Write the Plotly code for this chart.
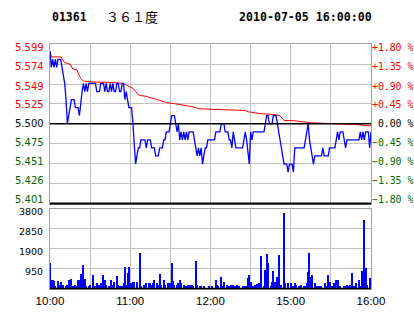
import plotly.graph_objects as go

# ---------------- data ----------------
stock_code = "01361"
stock_name = "３６１度"
timestamp = "2010-07-05 16:00:00"
prev_close = 5.50

# minute index 0..240 (10:00-12:30, 14:30-16:00)
prices = [
    5.59, 5.57, 5.58, 5.57, 5.58, 5.57, 5.58, 5.58, 5.58, 5.57,   # 0-9
    5.56, 5.55, 5.53, 5.50, 5.51, 5.52, 5.53, 5.53, 5.53, 5.52,   # 10-19
    5.52, 5.52, 5.51, 5.53, 5.54, 5.55, 5.54, 5.55, 5.54, 5.55,   # 20-29
    5.55, 5.55, 5.55, 5.55, 5.55, 5.54, 5.54, 5.54, 5.55, 5.55,   # 30-39
    5.55, 5.54, 5.55, 5.54, 5.54, 5.55, 5.54, 5.55, 5.54, 5.54,   # 40-49
    5.55, 5.55, 5.54, 5.54, 5.55, 5.55, 5.53, 5.54, 5.53, 5.52,   # 50-59
    5.52, 5.52, 5.50, 5.48, 5.45, 5.46, 5.47, 5.47, 5.48, 5.48,   # 60-69
    5.48, 5.48, 5.47, 5.48, 5.48, 5.48, 5.47, 5.47, 5.47, 5.46,   # 70-79
    5.46, 5.46, 5.47, 5.47, 5.47, 5.48, 5.48, 5.49, 5.49, 5.49,   # 80-89
    5.50, 5.51, 5.51, 5.51, 5.50, 5.49, 5.50, 5.48, 5.49, 5.48,   # 90-99
    5.49, 5.48, 5.49, 5.48, 5.49, 5.49, 5.49, 5.49, 5.48, 5.47,   # 100-109
    5.46, 5.47, 5.46, 5.47, 5.45, 5.46, 5.47, 5.47, 5.48, 5.48,   # 110-119
    5.48, 5.48, 5.48, 5.48, 5.49, 5.49, 5.49, 5.49, 5.50, 5.50,   # 120-129
    5.50, 5.49, 5.49, 5.49, 5.48, 5.48, 5.47, 5.49, 5.48, 5.47,   # 130-139
    5.47, 5.47, 5.47, 5.47, 5.47, 5.48, 5.49, 5.48, 5.46, 5.45,   # 140-149
    5.49, 5.48, 5.49, 5.49, 5.49, 5.49, 5.49, 5.49, 5.49, 5.49,   # 150-159
    5.49, 5.50, 5.51, 5.51, 5.50, 5.50, 5.50, 5.51, 5.51, 5.51,   # 160-169
    5.50, 5.49, 5.48, 5.47, 5.46, 5.45, 5.45, 5.45, 5.44, 5.45,   # 170-179
    5.45, 5.45, 5.44, 5.47, 5.47, 5.47, 5.47, 5.47, 5.47, 5.47,   # 180-189
    5.47, 5.48, 5.49, 5.50, 5.48, 5.47, 5.46, 5.45, 5.46, 5.46,   # 190-199
    5.46, 5.46, 5.46, 5.46, 5.47, 5.46, 5.46, 5.46, 5.46, 5.47,   # 200-209
    5.47, 5.47, 5.47, 5.47, 5.48, 5.49, 5.48, 5.49, 5.49, 5.49,   # 210-219
    5.48, 5.47, 5.48, 5.48, 5.48, 5.48, 5.48, 5.48, 5.48, 5.48,   # 220-229
    5.48, 5.48, 5.49, 5.48, 5.49, 5.48, 5.49, 5.49, 5.49, 5.47,   # 230-239
    5.49,                                                         # 240
]
minutes = list(range(len(prices)))

avg_minutes = [0, 1, 8, 11, 15, 17, 20, 23, 25, 30, 49, 55, 57, 60, 62, 64,
               66, 68, 72, 76, 80, 83, 88, 93, 98, 103, 108, 111, 121, 128,
               146, 148, 158, 168, 172, 174, 175, 183, 188, 195, 207, 229,
               231, 237, 240]
avg_values = [5.590, 5.583, 5.583, 5.576, 5.574, 5.568, 5.567, 5.556, 5.553,
              5.552, 5.551, 5.550, 5.548, 5.546, 5.544, 5.540, 5.536, 5.535,
              5.534, 5.532, 5.530, 5.528, 5.526, 5.525, 5.5235, 5.522, 5.5207,
              5.5186, 5.518, 5.5173, 5.5165, 5.5149, 5.5124, 5.5115, 5.5099,
              5.5058, 5.5041, 5.5037, 5.5028, 5.5012, 5.5004, 5.4996, 5.4988,
              5.4975, 5.4975]

vol_minutes = [0, 1, 2, 3, 4, 6, 7, 8, 9, 10, 12, 13, 14, 16, 17, 19, 20, 21,
               22, 23, 25, 26, 27, 29, 30, 32, 34, 35, 37, 38, 40, 41, 42, 44,
               46, 47, 48, 50, 51, 52, 54, 55, 56, 57, 58, 59, 60, 61, 62, 63,
               65, 67, 68, 70, 71, 72, 74, 75, 76, 77, 78, 80, 81, 82, 83, 85,
               86, 88, 89, 90, 91, 92, 93, 95, 96, 97, 98, 100, 101, 102, 103,
               105, 106, 107, 109, 110, 112, 113, 115, 119, 121, 124, 125, 126,
               128, 129, 130, 132, 134, 135, 137, 138, 140, 141, 144, 146, 147,
               148, 149, 150, 151, 152, 153, 154, 155, 156, 157, 158, 160, 161,
               162, 163, 165, 166, 167, 168, 169, 170, 171, 172, 173, 175, 176,
               178, 180, 181, 182, 183, 184, 186, 188, 190, 191, 192, 193, 194,
               195, 196, 198, 200, 201, 203, 206, 207, 208, 209, 211, 212, 213,
               214, 215, 217, 220, 221, 222, 223, 224, 226, 227, 228, 229, 231,
               232, 233, 234, 235, 236, 237, 239, 240]
vol_values = [1236, 400, 430, 370, 110, 350, 160, 320, 160, 160, 110, 160, 400,
              450, 110, 160, 110, 400, 400, 690, 1120, 450, 130, 110, 160, 640,
              110, 270, 160, 270, 640, 400, 160, 110, 400, 160, 320, 590, 160,
              110, 110, 240, 1040, 160, 750, 1040, 240, 270, 320, 320, 320,
              1716, 110, 160, 160, 240, 270, 270, 160, 240, 430, 240, 160, 690,
              160, 400, 160, 240, 270, 270, 1236, 370, 160, 160, 270, 400, 270,
              160, 110, 110, 160, 160, 160, 110, 1315, 160, 110, 110, 110, 110,
              110, 430, 160, 110, 560, 110, 320, 160, 110, 160, 160, 110, 160,
              110, 110, 110, 110, 480, 640, 320, 110, 110, 160, 110, 210, 240,
              110, 1555, 110, 880, 1650, 1236, 110, 320, 850, 320, 110, 530,
              1600, 110, 160, 3608, 240, 240, 240, 110, 110, 240, 160, 110, 160,
              110, 110, 240, 800, 1716, 560, 640, 240, 110, 110, 110, 270, 110,
              640, 320, 110, 240, 110, 430, 430, 110, 110, 110, 160, 110, 160,
              750, 110, 110, 270, 400, 110, 850, 590, 3288, 960, 160, 480, 110]

price_ticks = [5.401, 5.426, 5.451, 5.475, 5.500, 5.525, 5.549, 5.574, 5.599]
price_labels = ["5.401", "5.426", "5.451", "5.475", "5.500", "5.525", "5.549", "5.574", "5.599"]
pct_labels = ["−1.80 %", "−1.35 %", "−0.90 %", "−0.45 %", "\u00a00.00 %",
              "+0.45 %", "+0.90 %", "+1.35 %", "+1.80 %"]
vol_ticks = [0, 950, 1900, 2850, 3800]
vol_labels = ["", "950", "1900", "2850", "3800"]
time_ticks = [0, 30, 60, 90, 120, 150, 180, 210, 240]
time_labels = ["10:00", "", "11:00", "", "12:00", "", "15:00", "", "16:00"]

# ---------------- style ----------------
RED = "#FF0000"
GREEN = "#006600"
BLUE = "#0000FF"
GRID = "#C0C0C0"
BORDER = "#A0A0A0"
W, H = 414, 314

def tick_color(t):
    if abs(t - prev_close) < 1e-9:
        return "#000000"
    return RED if t > prev_close else GREEN

x_dom = [50 / W, 371 / W]
price_dom = [1 - 203.5 / H, 1 - 44 / H]
vol_dom = [1 - 288.5 / H, 1 - 209 / H]
price_range = [price_ticks[0], price_ticks[-1]]

fig = go.Figure()
fig.add_trace(go.Scatter(x=avg_minutes, y=avg_values, mode="lines",
                         line=dict(color=RED, width=1), xaxis="x", yaxis="y",
                         hoverinfo="skip"))
fig.add_trace(go.Scatter(x=minutes, y=prices, mode="lines",
                         line=dict(color=BLUE, width=1.3), xaxis="x", yaxis="y"))
fig.add_trace(go.Bar(x=vol_minutes, y=vol_values, width=0.8,
                     marker=dict(color=BLUE, line=dict(width=0)),
                     xaxis="x2", yaxis="y3"))

axis_common = dict(showline=True, mirror=True, linecolor=BORDER, linewidth=1,
                   showgrid=True, gridcolor=GRID, gridwidth=1, zeroline=False,
                   fixedrange=True, automargin=False)

# price-axis labels (left: price, right: change %), drawn at the axis values
annotations = []
n = len(price_ticks)
mid = (n - 1) / 2
for i, (t, lab, pct) in enumerate(zip(price_ticks, price_labels, pct_labels)):
    shift = (mid - i) * 0.9  # labels sit slightly inside the outer grid lines
    c = tick_color(t)
    annotations.append(dict(text=lab, xref="paper", yref="y", x=46 / W, y=t,
                            yshift=shift, xanchor="right", yanchor="middle",
                            showarrow=False,
                            font=dict(family="DejaVu Sans", size=10, color=c)))
    annotations.append(dict(text=pct, xref="paper", yref="y", x=370 / W, y=t,
                            yshift=shift, xanchor="left", yanchor="middle",
                            showarrow=False,
                            font=dict(family="DejaVu Sans Mono", size=9.8, color=c)))

annotations += [
    dict(text=f"<b>{stock_code}</b>", xref="paper", yref="paper",
         x=50 / W, y=1 - 16.5 / H, xanchor="left", yanchor="middle",
         showarrow=False, font=dict(family="DejaVu Sans Mono", size=11.5, color="#000")),
    dict(text=stock_name, xref="paper", yref="paper",
         x=104 / W, y=1 - 16.5 / H, xanchor="left", yanchor="middle",
         showarrow=False, font=dict(family="Noto Sans CJK SC", size=13, color="#000")),
    dict(text=f"<b>{timestamp}</b>", xref="paper", yref="paper",
         x=237 / W, y=1 - 16.5 / H, xanchor="left", yanchor="middle",
         showarrow=False, font=dict(family="DejaVu Sans Mono", size=11.6, color="#000")),
]

fig.update_layout(
    width=W, height=H, margin=dict(l=0, r=0, t=0, b=0, autoexpand=False),
    paper_bgcolor="white", plot_bgcolor="white", showlegend=False,
    bargap=0,
    xaxis=dict(domain=x_dom, range=[time_ticks[0], time_ticks[-1]], anchor="y",
               tickmode="array", tickvals=time_ticks, showticklabels=False,
               ticks="", **axis_common),
    xaxis2=dict(domain=x_dom, range=[time_ticks[0], time_ticks[-1]], anchor="y3",
                tickmode="array", tickvals=time_ticks, ticktext=time_labels,
                ticks="outside", ticklen=2, tickcolor="rgba(0,0,0,0)",
                tickfont=dict(family="Liberation Sans", size=11.5, color="#000000"),
                **axis_common),
    yaxis=dict(domain=price_dom, range=price_range, anchor="x",
               tickmode="array", tickvals=price_ticks, showticklabels=False,
               ticks="", **axis_common),
    yaxis3=dict(domain=vol_dom, range=[vol_ticks[0], vol_ticks[-1]], anchor="x2",
                tickmode="array", tickvals=vol_ticks, ticktext=vol_labels,
                ticks="outside", ticklen=4, tickcolor="rgba(0,0,0,0)",
                ticklabelshift=3,
                tickfont=dict(family="DejaVu Sans", size=9.5, color="#000000"),
                **axis_common),
    shapes=[
        dict(type="line", xref="x domain", x0=0, x1=1, yref="y", y0=prev_close,
             y1=prev_close, line=dict(color="#000000", width=1.3), layer="above"),
        dict(type="line", xref="x domain", x0=0, x1=1, yref="y domain", y0=0,
             y1=0, line=dict(color="#000000", width=2), layer="above"),
        dict(type="line", xref="x2 domain", x0=0, x1=1, yref="y3 domain", y0=0,
             y1=0, line=dict(color="#000000", width=1.5), layer="above"),
    ],
    annotations=annotations,
)

fig.write_html("out.html")
